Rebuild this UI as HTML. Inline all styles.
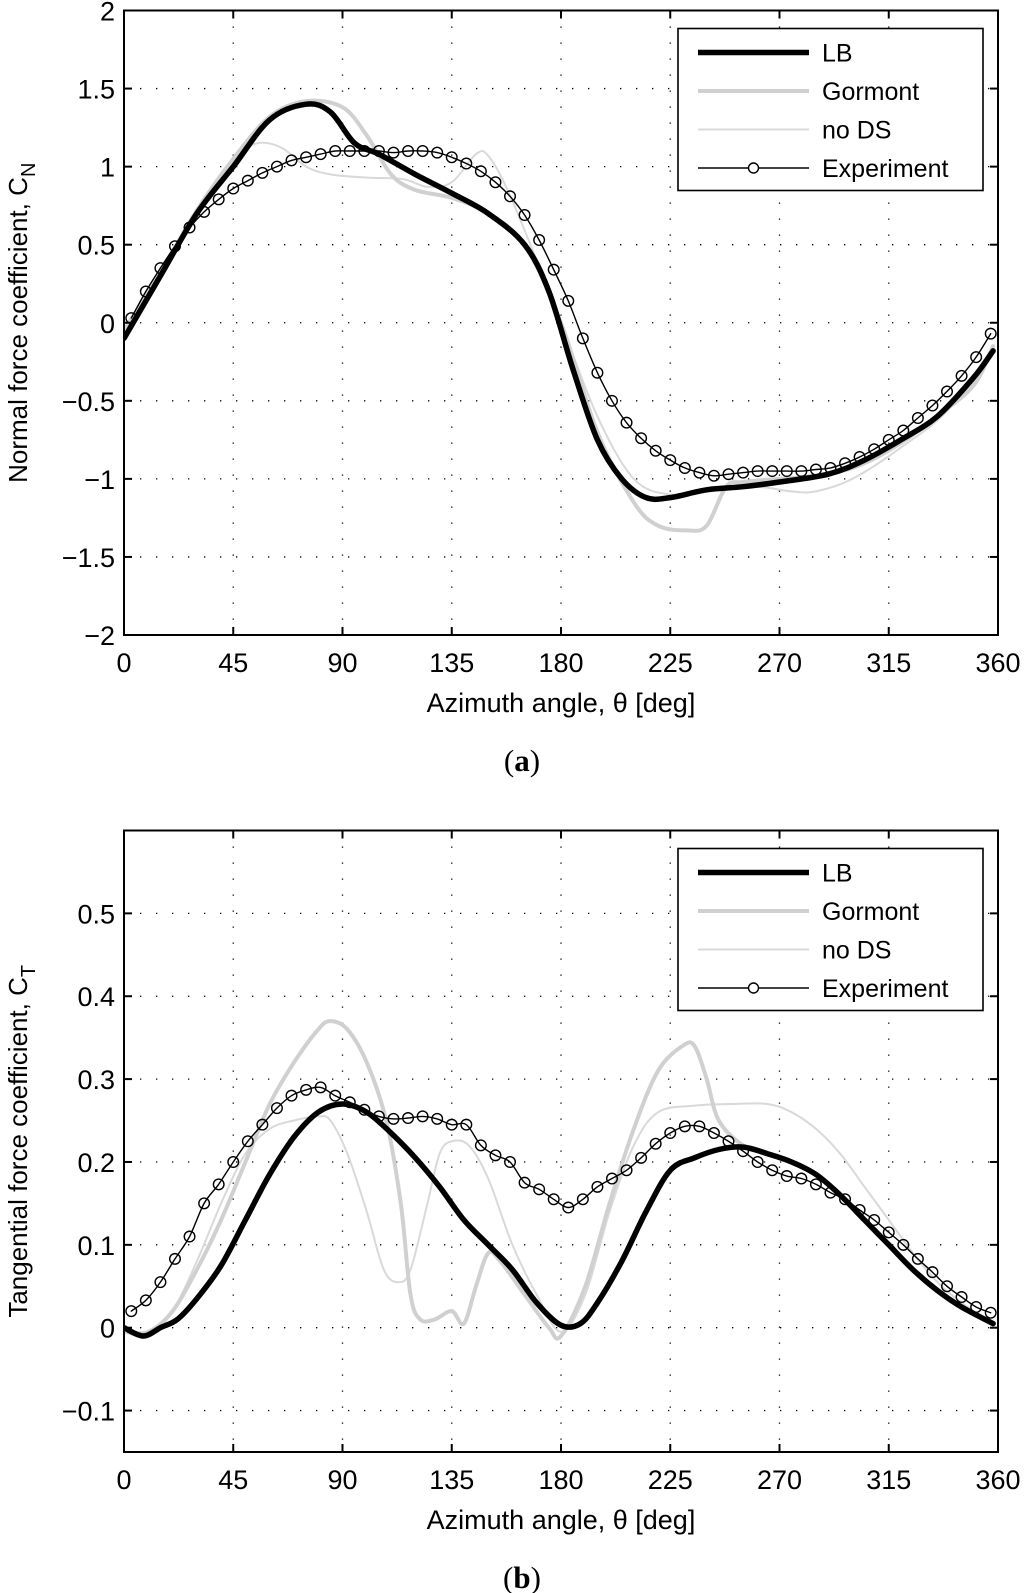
<!DOCTYPE html>
<html><head><meta charset="utf-8"><style>
html,body{margin:0;padding:0;background:#fff;}
svg{display:block;font-family:"Liberation Sans",Arial,sans-serif;}
</style></head><body>
<svg id="fig" width="1024" height="1593" viewBox="0 0 1024 1593" xmlns="http://www.w3.org/2000/svg"></svg>
<script>
// ---- data: panel (a) normal force coefficient ----
const cnLbX = [0,15,30,45,60,75,85,95,105,120,135,150,165,175,185,195,205,215,225,240,255,270,290,305,320,335,350,358];
const cnLbY = [-0.1,0.3,0.7,1.0,1.3,1.4,1.35,1.15,1.08,0.95,0.83,0.7,0.5,0.2,-0.3,-0.75,-1.0,-1.12,-1.12,-1.07,-1.05,-1.02,-0.97,-0.88,-0.75,-0.6,-0.35,-0.18];
const cnGoX = [0,15,30,45,60,75,90,100,110,120,135,150,165,180,195,210,220,232,240,248,255,270,290,305,320,335,350,358];
const cnGoY = [-0.05,0.32,0.72,1.05,1.32,1.42,1.38,1.2,0.95,0.85,0.8,0.7,0.5,0.0,-0.7,-1.15,-1.3,-1.33,-1.3,-1.05,-1.02,-1.0,-0.97,-0.9,-0.77,-0.6,-0.4,-0.15];
const cnNdX = [0,15,30,45,55,65,75,85,100,115,125,135,145,150,158,170,180,195,210,225,240,260,275,285,300,320,340,358];
const cnNdY = [-0.05,0.3,0.7,1.05,1.15,1.12,1.0,0.95,0.93,0.92,0.87,0.9,1.08,1.07,0.85,0.4,0.0,-0.6,-1.0,-1.1,-1.07,-1.05,-1.08,-1.08,-1.0,-0.8,-0.55,-0.15];
const cnExY = [0.03,0.2,0.35,0.49,0.61,0.71,0.79,0.86,0.91,0.96,1.0,1.04,1.06,1.08,1.1,1.1,1.1,1.1,1.09,1.1,1.1,1.09,1.06,1.02,0.97,0.9,0.81,0.69,0.53,0.34,0.14,-0.1,-0.32,-0.5,-0.64,-0.74,-0.82,-0.88,-0.93,-0.96,-0.98,-0.97,-0.96,-0.95,-0.95,-0.95,-0.95,-0.94,-0.93,-0.9,-0.86,-0.81,-0.75,-0.69,-0.61,-0.53,-0.44,-0.34,-0.22,-0.07];
// ---- data: panel (b) tangential force coefficient ----
const ctLbX = [0,8,15,22,30,40,50,60,70,80,90,100,110,120,130,140,150,160,170,180,188,195,205,215,225,235,245,255,265,275,285,295,305,315,325,335,345,358];
const ctLbY = [0.0,-0.01,0.0,0.01,0.035,0.075,0.13,0.185,0.23,0.26,0.27,0.26,0.235,0.205,0.17,0.13,0.1,0.07,0.03,0.003,0.005,0.03,0.08,0.14,0.19,0.205,0.215,0.218,0.21,0.2,0.185,0.16,0.13,0.1,0.07,0.045,0.025,0.005];
const ctGoX = [0,10,20,30,40,50,60,70,80,85,92,100,108,114,118,122,128,135,140,145,150,155,165,175,180,190,200,210,220,230,235,240,245,255,265,275,285,295,305,315,325,335,345,358];
const ctGoY = [-0.005,-0.005,0.02,0.07,0.13,0.2,0.27,0.32,0.36,0.37,0.36,0.32,0.25,0.15,0.04,0.01,0.01,0.02,0.005,0.05,0.09,0.08,0.04,0.0,-0.01,0.05,0.15,0.24,0.31,0.34,0.34,0.3,0.25,0.22,0.21,0.2,0.185,0.16,0.13,0.1,0.07,0.045,0.025,0.005];
const ctNdX = [0,10,20,30,40,50,60,70,80,85,92,100,107,113,118,125,130,135,142,150,160,170,180,190,200,210,220,235,250,265,275,285,295,305,315,325,335,345,358];
const ctNdY = [-0.005,-0.01,0.02,0.08,0.15,0.21,0.24,0.25,0.255,0.25,0.21,0.14,0.07,0.055,0.07,0.15,0.21,0.225,0.22,0.18,0.1,0.04,-0.005,0.04,0.14,0.22,0.26,0.268,0.27,0.27,0.26,0.24,0.21,0.17,0.13,0.09,0.055,0.03,0.005];
const ctExY = [0.02,0.033,0.055,0.083,0.11,0.15,0.173,0.2,0.225,0.245,0.265,0.28,0.287,0.29,0.28,0.272,0.263,0.255,0.252,0.253,0.255,0.252,0.245,0.245,0.22,0.208,0.2,0.175,0.167,0.155,0.145,0.155,0.17,0.18,0.19,0.205,0.222,0.235,0.243,0.243,0.235,0.225,0.213,0.2,0.19,0.183,0.18,0.173,0.163,0.155,0.142,0.13,0.115,0.1,0.083,0.067,0.05,0.037,0.025,0.018];
const expAngles = cnExY.map((_, i) => 3 + 6 * i);
const xTicks = [0,45,90,135,180,225,270,315,360];
const cnTicks = [-2,-1.5,-1,-0.5,0,0.5,1,1.5,2];
const cnTickLabels = ["\u22122","\u22121.5","\u22121","\u22120.5","0","0.5","1","1.5","2"];
const ctTicks = [-0.1,0,0.1,0.2,0.3,0.4,0.5];
const ctTickLabels = ["\u22120.1","0","0.1","0.2","0.3","0.4","0.5"];
const legendNames = ["LB","Gormont","no DS","Experiment"];

const NS = "http://www.w3.org/2000/svg";
const svg = document.getElementById('fig');
function mk(tag, attrs, parent) {
  const e = document.createElementNS(NS, tag);
  for (const k in attrs) e.setAttribute(k, attrs[k]);
  (parent || svg).appendChild(e);
  return e;
}
function smoothPath(pts) {
  let d = 'M' + pts[0][0].toFixed(1) + ',' + pts[0][1].toFixed(1);
  for (let i = 0; i < pts.length - 1; i++) {
    const p0 = pts[Math.max(0, i - 1)], p1 = pts[i], p2 = pts[i + 1], p3 = pts[Math.min(pts.length - 1, i + 2)];
    const c1x = p1[0] + (p2[0] - p0[0]) / 6, c1y = p1[1] + (p2[1] - p0[1]) / 6;
    const c2x = p2[0] - (p3[0] - p1[0]) / 6, c2y = p2[1] - (p3[1] - p1[1]) / 6;
    d += 'C' + c1x.toFixed(1) + ',' + c1y.toFixed(1) + ' ' + c2x.toFixed(1) + ',' + c2y.toFixed(1) + ' ' + p2[0].toFixed(1) + ',' + p2[1].toFixed(1);
  }
  return d;
}

function panel(o) {
  const L = 124, R = 998, T = o.top, B = o.bottom;
  const sx = v => L + (v - 0) / 360 * (R - L);
  const sy = v => B - (v - o.ymin) / (o.ymax - o.ymin) * (B - T);
  const g = mk('g', {});
  
  
  const grid = mk('g', {stroke:'#000','stroke-width':1.3,'stroke-dasharray':'1.3 14.7'}, g);
  
  
  xTicks.forEach(t => { if (t > 0 && t < 360) mk('line', {x1:sx(t),x2:sx(t),y1:T,y2:B}, grid); });
  o.yt.forEach(t => { const y = sy(t); if (y > T + 1 && y < B - 1) mk('line', {x1:L,x2:R,y1:y,y2:y}, grid); });
  const clip = mk('clipPath', {id:'c' + o.name}, g);
  mk('rect', {x:L,y:T,width:R-L,height:B-T}, clip);
  const sg = mk('g', {'clip-path':'url(#c' + o.name + ')'}, g);
  const line = (xs, ys, st, nm) => {
    const p = mk('path', Object.assign({fill:'none','stroke-linejoin':'round','stroke-linecap':'round',
      d: smoothPath(xs.map((x, i) => [sx(x), sy(ys[i])]))}, st), sg);
    
    
  };
  line(o.nd[0], o.nd[1], {stroke:'#d9d9d9','stroke-width':2}, 'no-ds-line');
  line(o.go[0], o.go[1], {stroke:'#d0d0d0','stroke-width':4}, 'gormont-line');
  line(o.lb[0], o.lb[1], {stroke:'#000','stroke-width':5.5}, 'lb-line');
  line(expAngles, o.ex, {stroke:'#000','stroke-width':1.4}, 'experiment-line');
  expAngles.forEach((a, i) => {
    const c = mk('circle', {cx:sx(a),cy:sy(o.ex[i]),r:5.3,fill:'none',stroke:'#000','stroke-width':1.4}, sg);
    
    
  });
  const ax = mk('g', {stroke:'#000','stroke-width':2}, g);
  
  
  mk('rect', {x:L,y:T,width:R-L,height:B-T,fill:'none'}, ax);
  xTicks.forEach(t => { mk('line',{x1:sx(t),x2:sx(t),y1:B,y2:B-8},ax); mk('line',{x1:sx(t),x2:sx(t),y1:T,y2:T+8},ax); });
  o.yt.forEach(t => { mk('line',{x1:L,x2:L+8,y1:sy(t),y2:sy(t)},ax); mk('line',{x1:R,x2:R-8,y1:sy(t),y2:sy(t)},ax); });
  xTicks.forEach(t => {
    const tx = mk('text', {x:sx(t), y:B+37, 'font-size':27, 'text-anchor':'middle'}, g);
    tx.textContent = t;
    
    
  });
  o.yt.forEach((t, i) => {
    const tx = mk('text', {x:L-9, y:sy(t)+10, 'font-size':27, 'text-anchor':'end'}, g);
    tx.textContent = o.ytl[i];
    
    
  });
  const xl = mk('text', {x:561, y:B+77, 'font-size':27, 'text-anchor':'middle'}, g);
  xl.textContent = 'Azimuth angle, \u03B8 [deg]';
  
  
  const yl = mk('text', {x:0, y:0, 'font-size':26, 'text-anchor':'middle', transform:'translate(27,' + ((T+B)/2) + ') rotate(-90)'}, g);
  yl.innerHTML = o.ylab + '<tspan font-size="20" dy="8">' + o.sub + '</tspan>';
  
  
  const cap = mk('text', {x:522, y:B+136, 'font-size':31, 'text-anchor':'middle','font-family':'"Liberation Serif",serif'}, g);
  cap.innerHTML = '(<tspan font-weight="bold">' + o.cap + '</tspan>)';
  
  
  const lg = mk('g', {}, g);
  
  
  const ly = T + 18;
  mk('rect', {x:678,y:ly,width:305,height:162,fill:'#fff',stroke:'#000','stroke-width':1.6}, lg);
  const styles = [{stroke:'#000','stroke-width':5.5},{stroke:'#d0d0d0','stroke-width':4},{stroke:'#d9d9d9','stroke-width':2},{stroke:'#000','stroke-width':1.4}];
  legendNames.forEach((n, i) => {
    const yy = ly + 24 + i * 38.5;
    const e = mk('g', {}, lg);
    
    
    mk('line', Object.assign({x1:698,x2:809,y1:yy,y2:yy}, styles[i]), e);
    if (i === 3) mk('circle', {cx:753.5,cy:yy,r:5,fill:'#fff',stroke:'#000','stroke-width':1.4}, e);
    const t = mk('text', {x:822, y:yy+9, 'font-size':25}, e);
    t.textContent = n;
  });
}

panel({name:'normal-force-chart', top:10.5, bottom:635, ymin:-2, ymax:2, yt:cnTicks, ytl:cnTickLabels,
  lb:[cnLbX,cnLbY], go:[cnGoX,cnGoY], nd:[cnNdX,cnNdY], ex:cnExY, ylab:'Normal force coefficient, C', sub:'N', cap:'a'});
panel({name:'tangential-force-chart', top:830.5, bottom:1452, ymin:-0.15, ymax:0.6, yt:ctTicks, ytl:ctTickLabels,
  lb:[ctLbX,ctLbY], go:[ctGoX,ctGoY], nd:[ctNdX,ctNdY], ex:ctExY, ylab:'Tangential force coefficient, C', sub:'T', cap:'b'});
</script>
</body></html>
